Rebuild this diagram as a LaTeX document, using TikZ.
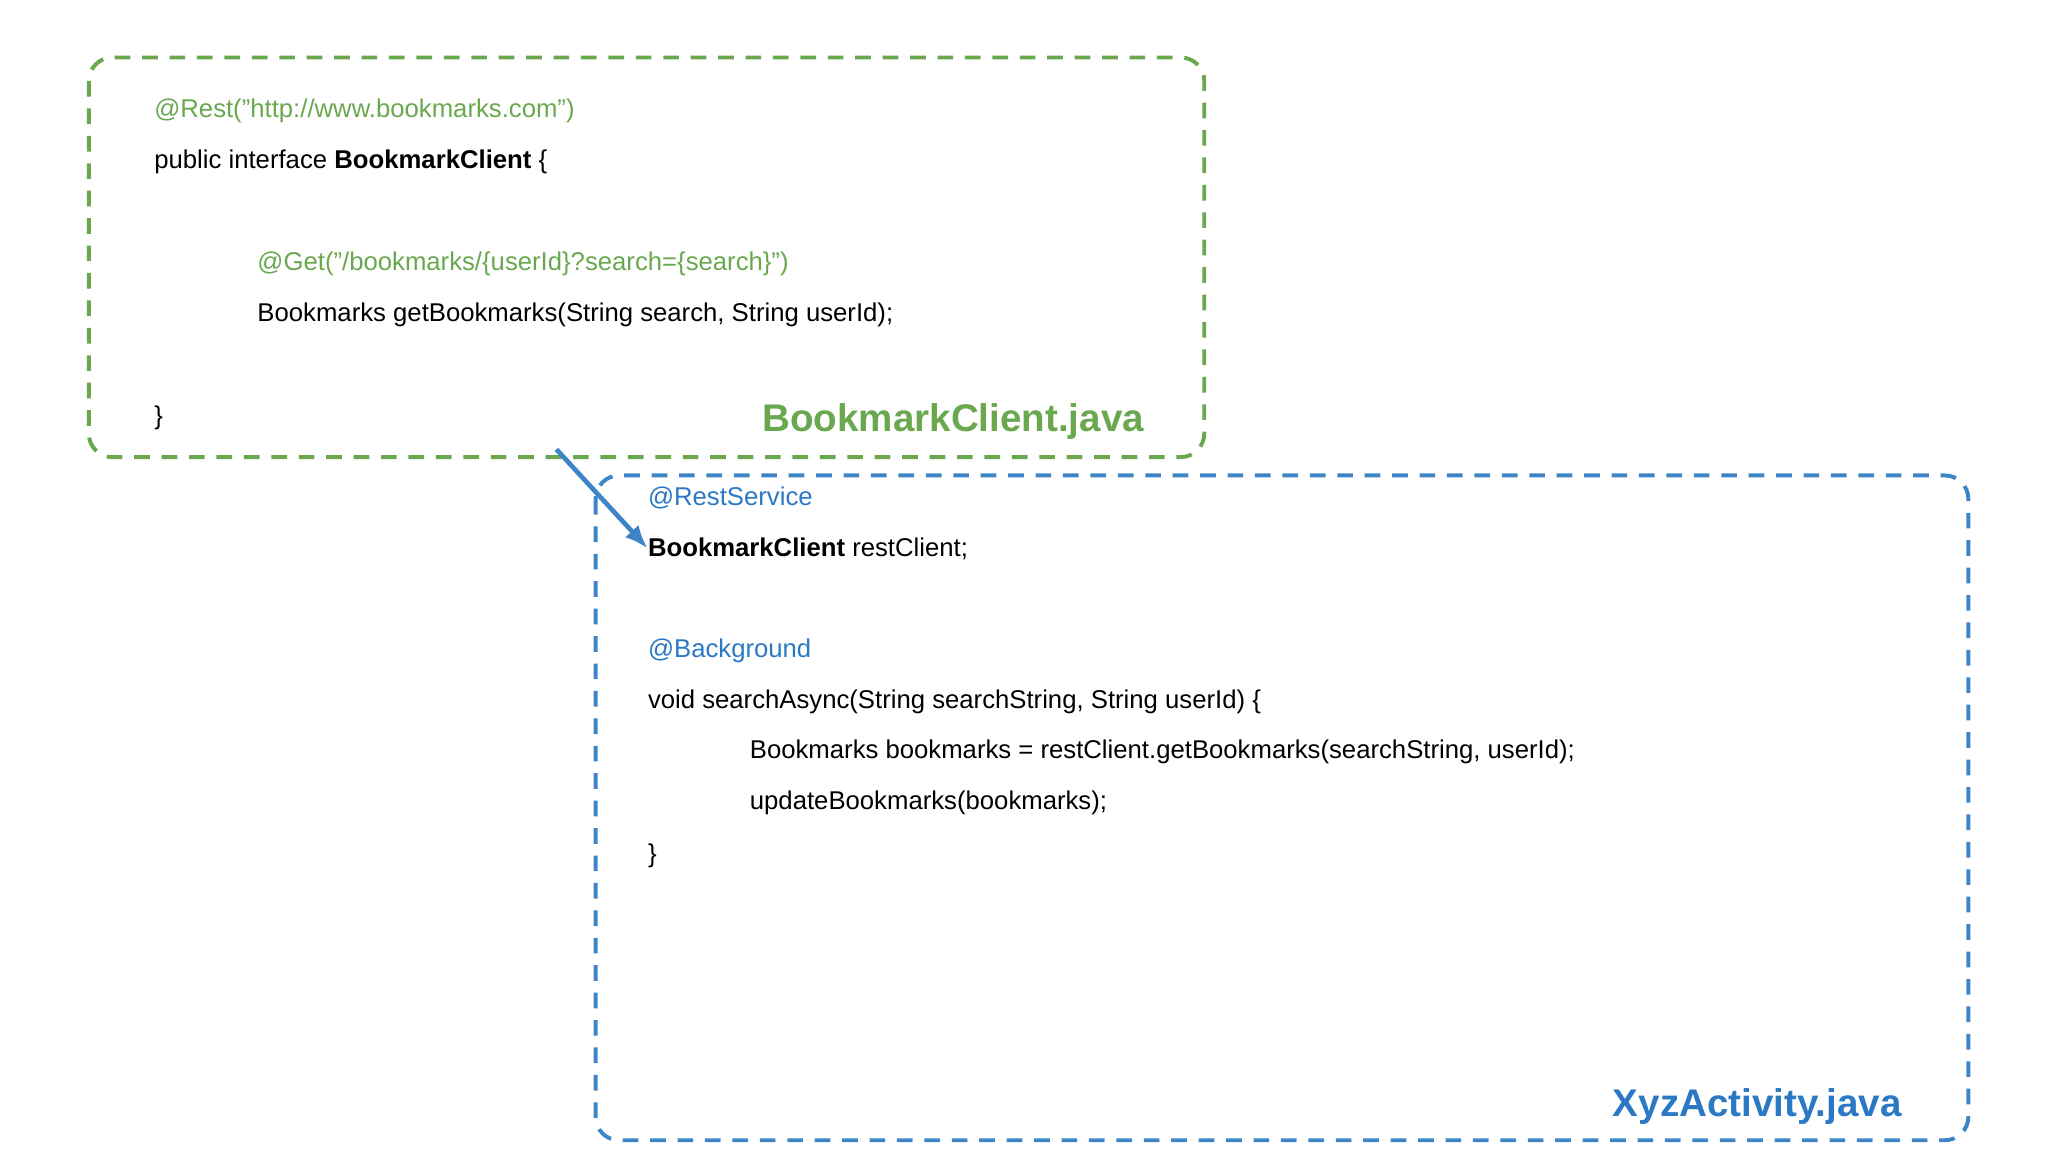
\documentclass[tikz,border=0pt]{standalone}
\usepackage{fontspec}
\setmainfont{Liberation Sans}
\usetikzlibrary{arrows.meta}
\definecolor{gr}{HTML}{6AA84F}
\definecolor{bl}{HTML}{3D85C6}
\definecolor{blt}{HTML}{2B78C5}
\begin{document}
\begin{tikzpicture}[x=0.05cm,y=-0.05cm,
  box/.style={line width=0.15cm,dash pattern=on 0.6cm off 0.45cm,rounded corners=0.9cm},
  code/.style={anchor=west,inner sep=0pt,font=\fontsize{28}{32}\selectfont},
  ttl/.style={anchor=east,inner sep=0pt,font=\fontsize{42}{48}\selectfont\bfseries}]
\useasboundingbox (0,0) rectangle (1568,882);
\draw[box,gr] (68,44) rectangle (922,350);
\draw[box,bl] (456,364) rectangle (1507,873);
\node[code,gr] (a1) at (118,85) {@Rest("http://www.bookmarks.com")};
\node[code] (a2) at (118,124) {public interface \textbf{BookmarkClient} \{};
\node[code,gr] (a3) at (197,202) {@Get("/bookmarks/\{userId\}?search=\{search\}")};
\node[code] (a4) at (197,241) {Bookmarks getBookmarks(String search, String userId);};
\node[code] (a5) at (118,320) {\}};
\node[ttl,gr] (t1) at (876,323) {BookmarkClient.java};
\node[code,blt] (b1) at (496,381) {@RestService};
\node[code] (b2) at (496,420) {\textbf{BookmarkClient} restClient;};
\node[code,blt] (b3) at (496,498) {@Background};
\node[code] (b4) at (496,537) {void searchAsync(String searchString, String userId) \{};
\node[code] (b5) at (574,576) {Bookmarks bookmarks = restClient.getBookmarks(searchString, userId);};
\node[code] (b6) at (574,615) {updateBookmarks(bookmarks);};
\node[code] (b7) at (496,655) {\}};
\node[ttl,blt] (t2) at (1456,847) {XyzActivity.java};
\coordinate (s) at (426,344);
\draw[bl,line width=0.18cm,-{Latex[length=0.9cm,width=0.7cm]}] (s) -- (b2.west);
\end{tikzpicture}
\end{document}
